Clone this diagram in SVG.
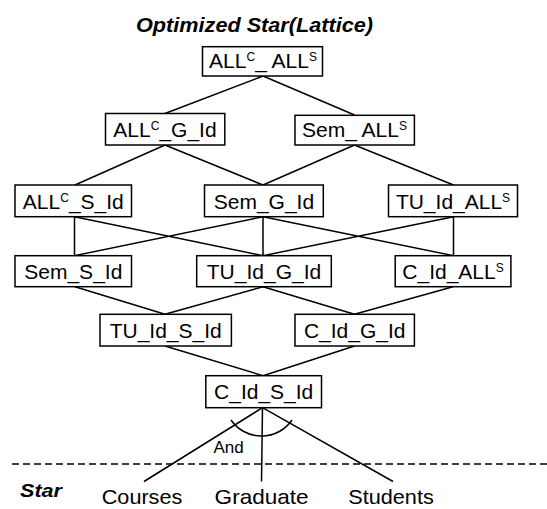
<svg xmlns="http://www.w3.org/2000/svg" width="547" height="509" viewBox="0 0 547 509">
<style>
.box{fill:#fff;stroke:#000;stroke-width:1.5}
.lbl{font-family:"Liberation Sans",Arial,sans-serif;font-size:21px;fill:#000;text-anchor:middle}
.sup{font-size:12px}
.edge{stroke:#000;stroke-width:1.5;fill:none}
.title{font-family:"Liberation Sans",Arial,sans-serif;font-weight:bold;font-style:italic;fill:#000}
.leaf{font-family:"Liberation Sans",Arial,sans-serif;font-size:21px;fill:#000;text-anchor:middle}
</style>
<rect width="547" height="509" fill="#fff"/>
<text class="title" x="136" y="32" font-size="21" textLength="237" lengthAdjust="spacingAndGlyphs">Optimized Star(Lattice)</text>
<g id="connectors">
<path class="edge" d="M263 76L165 113.5M263 76L354.5 115"/>
<path class="edge" d="M165 145L75 185M165 145L263 185M354.5 145L263 185M354.5 145L453.5 185"/>
<path class="edge" d="M74.5 216.7L74.5 255.7M74.5 216.7L263 255.7M263 216.7L74.5 255.7M263 216.7L263 255.7M263 216.7L453.5 255.7M453.5 216.7L263 255.7M453.5 216.7L453.5 255.7"/>
<path class="edge" d="M75 286.7L165 314.3M263 286.7L165 314.3M263 286.7L354.5 314.3M453 286.7L354.5 314.3"/>
<path class="edge" d="M165 346L263 375.7M354.5 346L263 375.7"/>
<path class="edge" d="M262.5 407.7L144 481.5M262.5 407.7L261.5 481.5M262.5 407.7L393 481.5"/>
<path class="edge" d="M231 420A37 37 0 0 0 292 420"/>
<line x1="12" y1="464" x2="547" y2="464" stroke="#000" stroke-width="1.3" stroke-dasharray="7 4"/>
</g>
<g id="n_all_all">
<rect class="box" x="202.5" y="46.7" width="120" height="29.3"/>
<text class="lbl" x="263" y="68">ALL<tspan class="sup" dy="-7">C</tspan><tspan dy="7">_ ALL</tspan><tspan class="sup" dy="-7">S</tspan></text>
</g>
<g id="n_allc_gid">
<rect class="box" x="105.5" y="113.5" width="119.3" height="31.5"/>
<text class="lbl" x="165" y="136.7">ALL<tspan class="sup" dy="-7">C</tspan><tspan dy="7">_G_Id</tspan></text>
</g>
<g id="n_sem_alls">
<rect class="box" x="295" y="115.3" width="119.4" height="29.7"/>
<text class="lbl" x="354.5" y="136.7">Sem_ ALL<tspan class="sup" dy="-7">S</tspan></text>
</g>
<g id="n_allc_sid">
<rect class="box" x="15" y="185" width="116.5" height="31.7"/>
<text class="lbl" x="73.3" y="208.5">ALL<tspan class="sup" dy="-7">C</tspan><tspan dy="7">_S_Id</tspan></text>
</g>
<g id="n_sem_gid">
<rect class="box" x="204.5" y="185" width="118.8" height="31.7"/>
<text class="lbl" x="263.9" y="208.5">Sem_G_Id</text>
</g>
<g id="n_tuid_alls">
<rect class="box" x="388.5" y="185" width="129" height="31.7"/>
<text class="lbl" x="453" y="208.5">TU_Id_ALL<tspan class="sup" dy="-7">S</tspan></text>
</g>
<g id="n_sem_sid">
<rect class="box" x="15" y="255.7" width="116.5" height="31"/>
<text class="lbl" x="73.3" y="278.5">Sem_S_Id</text>
</g>
<g id="n_tuid_gid">
<rect class="box" x="196.7" y="255.7" width="134.6" height="31"/>
<text class="lbl" x="264" y="278.5">TU_Id_G_Id</text>
</g>
<g id="n_cid_alls">
<rect class="box" x="395.2" y="255.7" width="115.7" height="31"/>
<text class="lbl" x="453" y="278.5">C_Id_ALL<tspan class="sup" dy="-7">S</tspan></text>
</g>
<g id="n_tuid_sid">
<rect class="box" x="100" y="314.3" width="131.4" height="31.7"/>
<text class="lbl" x="165.7" y="337.5">TU_Id_S_Id</text>
</g>
<g id="n_cid_gid">
<rect class="box" x="295" y="314.3" width="119.4" height="31.7"/>
<text class="lbl" x="354.7" y="337.5">C_Id_G_Id</text>
</g>
<g id="n_cid_sid">
<rect class="box" x="205.8" y="375.7" width="115.7" height="32"/>
<text class="lbl" x="263.7" y="399">C_Id_S_Id</text>
</g>
<text x="213.5" y="452.5" font-family="Liberation Sans, Arial, sans-serif" font-size="17">And</text>
<text class="title" x="20" y="496.5" font-size="19" textLength="42" lengthAdjust="spacingAndGlyphs">Star</text>
<g id="n_courses"><text class="leaf" x="142" y="504" textLength="80.5" lengthAdjust="spacingAndGlyphs">Courses</text></g>
<g id="n_graduate"><text class="leaf" x="261.6" y="504" textLength="94" lengthAdjust="spacingAndGlyphs">Graduate</text></g>
<g id="n_students"><text class="leaf" x="391" y="504" textLength="85.5" lengthAdjust="spacingAndGlyphs">Students</text></g>
</svg>
